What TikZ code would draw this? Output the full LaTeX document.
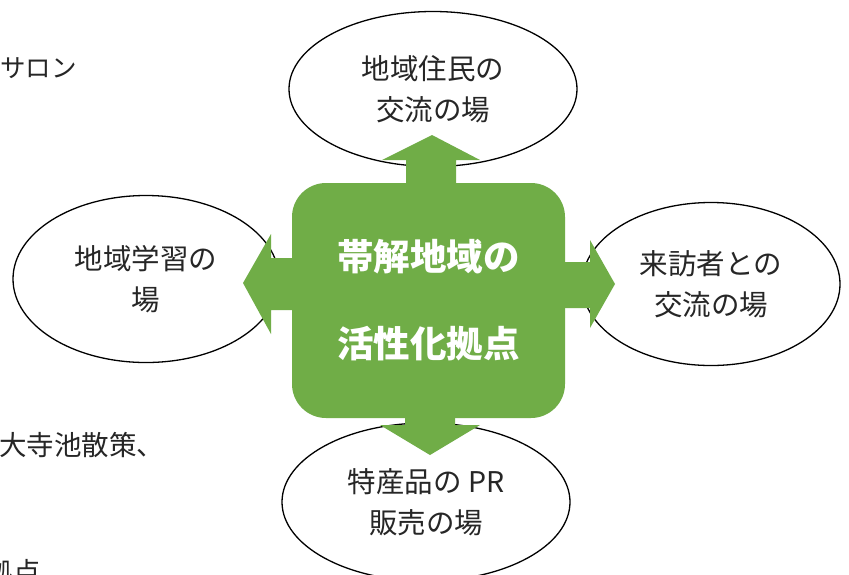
\documentclass[tikz,border=0pt]{standalone}
\usepackage{fontspec}
\setmainfont{Noto Sans CJK JP}
\usetikzlibrary{shapes.geometric}
\definecolor{hubgreen}{HTML}{70AD47}
\tikzset{
  place/.style={ellipse, draw=black, line width=1.3pt, fill=white, inner sep=0pt,
    align=center, font=\fontsize{28.5}{41}\selectfont, text=black!85},
  hub/.style={rectangle, rounded corners=34pt, fill=hubgreen, inner sep=0pt,
    align=center, text=white, font=\fontsize{36.5}{87}\selectfont\bfseries},
  barrow/.style={fill=hubgreen, draw=none},
  sidetext/.style={inner sep=0pt, font=\fontsize{25.5}{32}\selectfont, text=black!85}
}
\begin{document}
\begin{tikzpicture}[x=1pt,y=-1pt]
\useasboundingbox (0,0) rectangle (849,574);
\clip (0,0) rectangle (849,574);
\fill[white] (0,0) rectangle (849,574);
% outside texts (cut off at the edges, as in the reference)
\node[sidetext, anchor=west] (t1) at (0,68) {サロン};
\node[sidetext, anchor=west, font=\fontsize{27.5}{32}\selectfont] (t2) at (-1,445) {大寺池散策、};
\node[sidetext, anchor=east, font=\fontsize{27.5}{32}\selectfont] (t3) at (41,572) {拠点};
% ellipses
\node[place, minimum width=288pt, minimum height=155pt] (top) at (433,89) {地域住民の\\交流の場};
\node[place, minimum width=266pt, minimum height=167pt] (left) at (146,279) {地域学習の\\場};
\node[place, minimum width=258pt, minimum height=163pt] (right) at (711,284) {来訪者との\\交流の場};
\node[place, minimum width=288pt, minimum height=158pt] (bottom) at (426,502) {特産品の PR\\販売の場};
% block arrows
\fill[barrow] (406,210) -- (406,160) -- (382,160) -- (432,135) -- (480,160) -- (456,160) -- (456,210) -- cycle;
\fill[barrow] (405,390) -- (405,425) -- (380,425) -- (430,455) -- (480,425) -- (455,425) -- (455,390) -- cycle;
\fill[barrow] (320,258) -- (271,258) -- (271,234) -- (243,283) -- (271,334) -- (271,310) -- (320,310) -- cycle;
\fill[barrow] (540,262) -- (590,262) -- (590,240) -- (615,284) -- (590,328) -- (590,308) -- (540,308) -- cycle;
% hub
\node[hub, minimum width=273pt, minimum height=235pt] (hubnode) at (428.5,300.5) {帯解地域の\\活性化拠点};
\end{tikzpicture}
\end{document}
